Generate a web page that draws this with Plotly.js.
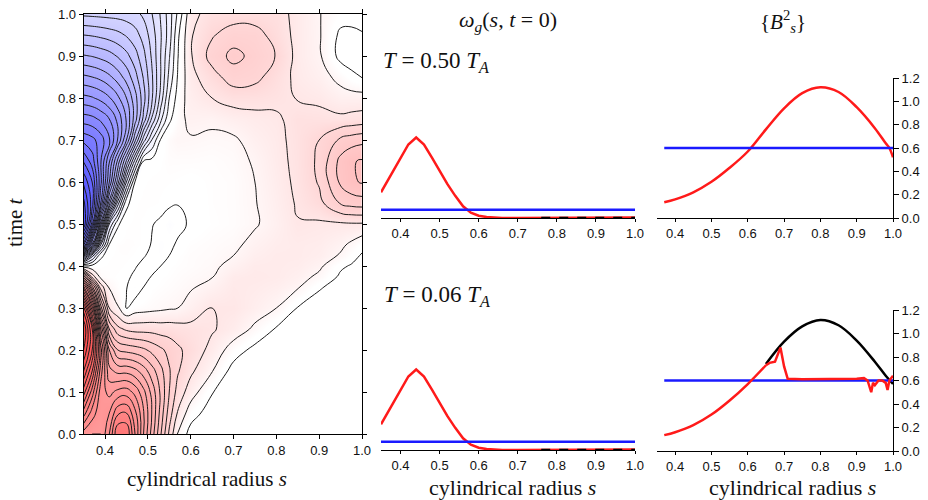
<!DOCTYPE html>
<html>
<head>
<meta charset="utf-8">
<script src="https://cdn.plot.ly/plotly-3.0.1.min.js"></script>
<style>html,body{margin:0;padding:0;background:#fff}#chart{width:928px;height:500px}</style>
</head>
<body>
<div id="chart"></div>
<script>
// ---- contour field: cylindrical radius s (columns) x time t (rows), in contour-level units
const sGrid = [0.35,0.37,0.39,0.41,0.43,0.45,0.47,0.49,0.51,0.53,0.55,0.57,0.60,0.65,0.70,0.75,0.80,0.85,0.90,0.95,0.975,1.00];
const tGrid = [0,0.05,0.1,0.15,0.2,0.25,0.3,0.35,0.375,0.4,0.425,0.45,0.5,0.55,0.6,0.65,0.7,0.75,0.8,0.85,0.9,0.95,1.0];
const zField = [
 [12,11.5,11.5,13.5,16.5,16.5,13.5,10.5,8.0,5.6,3.3,1.4,0.1,0,0,0,0,0,0,0,0,0],
 [15,13,11.8,12.5,14.3,14.5,12.8,10.6,8.4,6.1,4.0,2.4,0.95,0,0,0,0,0,0,0,0,0],
 [18,15,12,11.2,11.8,12,11.2,9.8,8.1,6.3,4.5,3.1,2.0,0.55,0,0,0,0,0,0,0,0],
 [20.5,17.5,13,9.8,9.2,9.2,8.8,8.0,6.9,5.8,4.6,3.6,2.7,1.55,0.1,0,0,0,0,0,0,0],
 [22.5,19.5,14,8.5,6.5,6.2,6.0,5.7,5.2,4.7,4.2,3.7,3.1,2.2,1.0,0.2,0,0,0,0,0,0],
 [23.5,19.5,11.5,5.5,3.8,3.3,3.1,3.1,3.1,3.0,3.0,2.9,2.8,2.6,2.1,1.3,0.4,0,0,0,0,0],
 [21,15,7,2.5,1.6,0.45,1.0,1.1,1.2,1.3,1.4,1.5,1.9,2.5,2.45,2.0,1.5,0.45,0.05,0,0,0],
 [14,8,3,1.4,1.0,0.55,-0.1,0.5,0.9,1.0,1.1,1.2,1.4,1.8,2.3,2.2,2.0,1.6,0.6,0.15,0.08,0.05],
 [8,3,1.2,1.0,0.9,0.7,0.3,-0.1,0.6,0.9,1.0,1.1,1.25,1.45,2.2,2.3,2.2,1.9,1.3,0.35,0.22,0.15],
 [0.6,0.8,0.9,1.0,1.0,0.9,0.6,0.2,-0.1,0.5,0.9,1.0,1.1,1.3,1.8,2.2,2.2,2.1,1.7,0.65,0.42,0.25],
 [-8,-3,0.3,0.9,1.0,1.0,0.9,0.6,0.2,-0.1,0.5,0.9,1.1,1.2,1.5,2.0,2.2,2.2,2.0,1.4,0.85,0.4],
 [-20,-12,-3.5,0.6,1.0,1.05,1.0,0.9,0.4,-0.2,0.2,0.7,1.0,1.15,1.3,1.8,2.1,2.2,2.1,1.7,1.3,0.8],
 [-25.5,-20,-11,-2.5,0.4,0.9,1.0,0.9,0.55,0.3,-0.3,0.1,0.7,0.95,1.1,1.4,1.9,2.45,2.35,2.35,2.4,2.4],
 [-24.8,-22,-16.5,-10,-4,0.3,0.9,1.0,1.0,0.9,0.75,0.55,0.6,1.0,1.1,1.45,2.0,2.6,3.2,4.6,4.9,5.0],
 [-23.3,-21.5,-17.8,-13.5,-9,-3.5,0.55,0.9,1.0,1.0,0.95,0.9,0.8,1.0,1.1,1.5,2.1,2.7,3.6,5.7,6.3,6.6],
 [-21.4,-20,-17.6,-14.6,-11.2,-7.4,-3.2,0.5,0.8,0.9,1.1,1.1,1.1,1.05,1.2,1.6,2.2,2.75,3.7,5.8,6.4,6.6],
 [-19.2,-18.8,-18.0,-16.6,-14.4,-11.5,-7.8,-4.0,-1.4,0.6,1.2,1.45,1.4,1.3,1.35,1.9,2.25,2.8,3.5,4.7,5.0,5.2],
 [-17.0,-16.8,-16.3,-15.5,-14.2,-12.4,-10.0,-7.2,-4.3,-1.8,0.3,1.1,1.8,1.7,2.0,2.2,2.35,2.85,2.8,2.7,2.8,2.9],
 [-14.8,-14.6,-14.2,-13.6,-12.7,-11.5,-9.9,-7.9,-5.6,-3.1,-0.5,0.9,2.0,2.5,2.9,2.9,2.75,2.45,2.3,1.9,1.9,1.9],
 [-12.7,-12.5,-12.2,-11.7,-11.0,-10.1,-8.9,-7.4,-5.6,-3.5,-1.2,0.6,2.2,3.1,4.0,3.8,3.0,2.25,1.9,1.2,0.75,0.45],
 [-10.6,-10.45,-10.2,-9.9,-9.4,-8.8,-7.9,-6.8,-5.3,-3.5,-1.6,0.45,2.4,3.9,4.8,4.2,3.45,2.2,1.65,0.2,0.0,0.1],
 [-8.5,-8.4,-8.25,-8.05,-7.8,-7.4,-6.9,-6.1,-5.0,-3.6,-2.0,0.3,2.4,3.4,4.0,3.9,3.1,2.2,1.6,0.3,0.25,0.4],
 [-6.3,-6.25,-6.2,-6.15,-6.1,-6.0,-5.8,-5.3,-4.5,-3.4,-2.0,-0.3,2.2,2.9,3.0,3.0,2.9,2.2,1.55,0.9,0.9,1.0]
];

// ---- omega_g(s, t=0) profile (middle panels)
const omegaS   = [0.35,0.36,0.37,0.38,0.39,0.40,0.41,0.42,0.44,0.46,0.48,0.50,0.52,0.54,0.56,0.58,0.60,0.62,0.64,0.66,0.70,0.80,0.90,1.00];
const omegaVal = [0.22,0.28,0.34,0.40,0.46,0.52,0.58,0.63,0.69,0.63,0.52,0.40,0.29,0.19,0.10,0.045,0.02,0.008,0.003,0.001,0,0,0,0.004];
const omegaBlueS = [0.35,1.0];
const omegaBlueV = [0.07,0.07];
const zeroDashS = [0.76,1.0];
const zeroDashV = [0.003,0.003];

// ---- {B_s^2} profiles (right panels)
const bS    = [0.37,0.40,0.45,0.50,0.55,0.60,0.65,0.70,0.75,0.80,0.85,0.90,0.95,0.98,0.99,1.00];
const bTop  = [0.135,0.16,0.22,0.31,0.43,0.57,0.76,0.94,1.07,1.12,1.08,0.95,0.77,0.64,0.60,0.52];
const bBlackS = [0.65,0.70,0.75,0.80,0.85,0.90,0.95,0.98,1.00];
const bBlackV = [0.74,0.93,1.06,1.115,1.07,0.94,0.76,0.64,0.57];
const bRedSmoothS = [0.37,0.40,0.45,0.50,0.55,0.60,0.65];
const bRedSmoothV = [0.135,0.16,0.22,0.31,0.43,0.57,0.73];
const bRedFrontS = [0.65,0.66,0.675,0.69,0.70,0.71,0.75,0.80,0.85,0.90,0.92,0.93,0.94,0.945,0.95,0.96,0.97,0.98,0.985,0.99,1.00];
const bRedFrontV = [0.73,0.75,0.76,0.88,0.72,0.615,0.61,0.61,0.61,0.615,0.62,0.60,0.50,0.58,0.56,0.60,0.60,0.58,0.52,0.60,0.64];
const bBlueS = [0.37,1.0];
const bBlueV = [0.6,0.6];

const sTicks = [0.4,0.5,0.6,0.7,0.8,0.9,1.0];
const tTicks = [0,0.1,0.2,0.3,0.4,0.5,0.6,0.7,0.8,0.9,1.0];
const bTicks = [0,0.2,0.4,0.6,0.8,1.0,1.2];

const RED = '#ff1a1a', BLUE = '#1a1aff';
const traces = [
  {type:'contour', x:sGrid, y:tGrid, z:zField, xaxis:'x', yaxis:'y',
   zauto:false, zmin:-25, zmax:26, showscale:false,
   colorscale:[[0,'rgb(80,80,255)'],[0.49,'rgb(255,255,255)'],[0.508,'rgb(255,255,255)'],
               [0.56,'rgb(255,214,214)'],[0.70,'rgb(255,160,160)'],[1,'rgb(255,50,50)']],
   contours:{start:-25.5, end:25.5, size:1, coloring:'heatmap', showlines:true},
   line:{color:'#1c1c1c', width:1, smoothing:1.3}, hoverinfo:'skip'},
  {x:omegaS, y:omegaVal, xaxis:'x2', yaxis:'y2', mode:'lines', line:{color:RED, width:2.5}},
  {x:omegaBlueS, y:omegaBlueV, xaxis:'x2', yaxis:'y2', mode:'lines', line:{color:BLUE, width:2.5}},
  {x:zeroDashS, y:zeroDashV, xaxis:'x2', yaxis:'y2', mode:'lines', line:{color:'#000', width:2, dash:'dash'}},
  {x:omegaS, y:omegaVal, xaxis:'x3', yaxis:'y3', mode:'lines', line:{color:RED, width:2.5}},
  {x:omegaBlueS, y:omegaBlueV, xaxis:'x3', yaxis:'y3', mode:'lines', line:{color:BLUE, width:2.5}},
  {x:zeroDashS, y:zeroDashV, xaxis:'x3', yaxis:'y3', mode:'lines', line:{color:'#000', width:2, dash:'dash'}},
  {x:bS, y:bTop, xaxis:'x4', yaxis:'y4', mode:'lines', line:{color:RED, width:2.5, shape:'spline', smoothing:1}},
  {x:bBlueS, y:bBlueV, xaxis:'x4', yaxis:'y4', mode:'lines', line:{color:BLUE, width:2.5}},
  {x:bBlackS, y:bBlackV, xaxis:'x5', yaxis:'y5', mode:'lines', line:{color:'#000', width:2.5, shape:'spline', smoothing:1}},
  {x:bBlueS, y:bBlueV, xaxis:'x5', yaxis:'y5', mode:'lines', line:{color:BLUE, width:2.5}},
  {x:bRedSmoothS, y:bRedSmoothV, xaxis:'x5', yaxis:'y5', mode:'lines', line:{color:RED, width:2.5, shape:'spline', smoothing:1}},
  {x:bRedFrontS, y:bRedFrontV, xaxis:'x5', yaxis:'y5', mode:'lines', line:{color:RED, width:2.5}}
];

const W = 928, H = 500;
const px = v => v / W, py = v => 1 - v / H;
const tickFont = {family:'Liberation Sans, Arial, sans-serif', size:13, color:'#111'};
const sAxis = (dom, anchor, extra) => Object.assign({
  domain:dom, anchor:anchor, range:[0.35,1.0], showline:true, linecolor:'#000', linewidth:1,
  ticks:'outside', ticklen:3, tickcolor:'#000', tickvals:sTicks, ticktext:sTicks.map(v=>v.toFixed(1)),
  tickfont:tickFont, showgrid:false, zeroline:false, fixedrange:true}, extra||{});

const layout = {
  width:W, height:H, margin:{l:0,r:0,t:0,b:0}, showlegend:false,
  paper_bgcolor:'#fff', plot_bgcolor:'rgba(0,0,0,0)', hovermode:false,
  xaxis: sAxis([px(83.6), px(362)], 'y', {mirror:'ticks', ticklen:4}),
  yaxis: {domain:[py(434), py(14)], anchor:'x', range:[0,1], showline:true, linecolor:'#000', linewidth:1,
          mirror:'ticks', ticks:'outside', ticklen:4, tickcolor:'#000', tickvals:tTicks,
          ticktext:tTicks.map(v=>v.toFixed(1)), tickfont:tickFont, showgrid:false, zeroline:false},
  xaxis2: sAxis([px(381), px(635)], 'y2'),
  yaxis2: {domain:[py(218), py(78)], anchor:'x2', range:[0,1.2], visible:false},
  xaxis3: sAxis([px(381), px(635)], 'y3'),
  yaxis3: {domain:[py(450), py(310)], anchor:'x3', range:[0,1.2], visible:false},
  xaxis4: sAxis([px(657), px(893)], 'y4'),
  yaxis4: {domain:[py(218), py(78)], anchor:'x4', side:'right', range:[0,1.2], showline:true, linecolor:'#000',
           ticks:'outside', ticklen:5, tickcolor:'#000', tickvals:bTicks, ticktext:bTicks.map(v=>v.toFixed(1)),
           tickfont:tickFont, showgrid:false, zeroline:false},
  xaxis5: sAxis([px(657), px(893)], 'y5'),
  yaxis5: {domain:[py(451), py(310)], anchor:'x5', side:'right', range:[0,1.2], showline:true, linecolor:'#000',
           ticks:'outside', ticklen:5, tickcolor:'#000', tickvals:bTicks, ticktext:bTicks.map(v=>v.toFixed(1)),
           tickfont:tickFont, showgrid:false, zeroline:false},
  annotations: []
};
const serif = s => ({family:'Liberation Serif, Times New Roman, serif', size:s, color:'#111'});
const ann = (text, x, y, size, extra) => layout.annotations.push(Object.assign({
  text:text, x:px(x), y:py(y), xref:'paper', yref:'paper', showarrow:false,
  xanchor:'center', yanchor:'middle', font:serif(size)}, extra||{}));
ann('time <i>t</i>', 15, 222, 21, {textangle:-90});
ann('cylindrical radius <i>s</i>', 207, 479, 21);
ann('cylindrical radius <i>s</i>', 512, 487, 22);
ann('cylindrical radius <i>s</i>', 792, 487, 22);
ann('<i>ω</i><sub><i>g</i></sub>(<i>s</i>, <i>t</i> = 0)', 508, 21, 22);
ann('{<i>B</i><sup>2</sup><sub><i>s</i></sub>}', 783, 21, 21);
ann('<i>T</i> = 0.50 <i>T</i><sub><i>A</i></sub>', 436, 62, 23);
ann('<i>T</i> = 0.06 <i>T</i><sub><i>A</i></sub>', 437, 296, 23);

Plotly.newPlot('chart', traces, layout, {staticPlot:true, displayModeBar:false});
</script>
</body>
</html>
